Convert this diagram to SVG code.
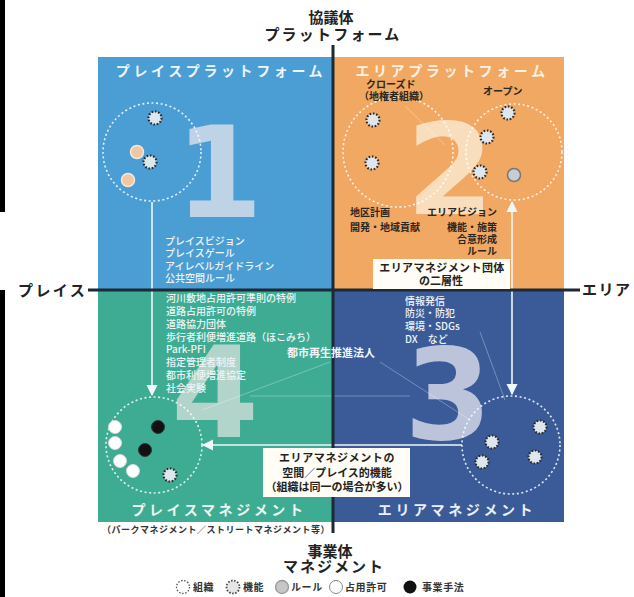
<svg xmlns="http://www.w3.org/2000/svg" width="634" height="597" viewBox="0 0 634 597">
<defs>
<style>
.jp{font-family:'Noto Sans CJK JP','Noto Sans',sans-serif;}
.ax{font-family:'Noto Sans CJK JP',sans-serif;font-weight:bold;font-size:15px;fill:#222;}
.qh{font-family:'Noto Sans CJK JP',sans-serif;font-weight:bold;font-size:14px;letter-spacing:3.6px;text-anchor:middle;}
.lw{font-family:'Noto Sans CJK JP',sans-serif;font-weight:500;font-size:10px;fill:#eef5f7;}
.ld{font-family:'Noto Sans CJK JP',sans-serif;font-weight:bold;font-size:10px;fill:#2b2620;}
.bx{font-family:'Noto Sans CJK JP',sans-serif;font-weight:bold;font-size:11px;fill:#222;text-anchor:middle;}
.dig{font-family:'DejaVu Sans',sans-serif;font-weight:bold;font-size:126px;text-anchor:middle;}
.grp{fill:none;stroke:#ffffff;stroke-width:1.6;stroke-dasharray:2 2.6;opacity:0.85;}
.gear{fill:#dfe7ee;stroke:#2a2a2a;stroke-width:2.2;stroke-dasharray:1.6 1.7;}
.rule{fill:#f2c7a0;stroke:#f4e7da;stroke-width:1.5;}
.white{fill:#ffffff;stroke:#d8d8d8;stroke-width:1;}
.black{fill:#111111;stroke:#333;stroke-width:1;}
.conn{stroke:#eef7fa;stroke-width:1.6;fill:none;}
.faint{stroke:#ffffff;stroke-width:1;opacity:0.3;fill:none;}
.lg{font-family:'Noto Sans CJK JP',sans-serif;font-weight:bold;font-size:10px;fill:#333;letter-spacing:0.6px;}
</style>
<marker id="ah" viewBox="0 0 10 10" refX="9" refY="5" markerWidth="7" markerHeight="7" orient="auto-start-reverse">
<path d="M0,0 L10,5 L0,10 z" fill="#eef7fa"/>
</marker>
</defs>
<rect x="0" y="0" width="634" height="597" fill="#ffffff"/>
<rect x="0" y="0" width="5" height="212" fill="#000"/>
<rect x="0" y="290" width="5" height="307" fill="#000"/>

<!-- quadrants -->
<g id="q1-bg"><rect x="98" y="57" width="236" height="234" fill="#4a9ed4"/></g>
<g id="q2-bg"><rect x="334" y="57" width="230" height="234" fill="#f0a862"/></g>
<g id="q4-bg"><rect x="98" y="291" width="236" height="231" fill="#3eac92"/></g>
<g id="q3-bg"><rect x="334" y="291" width="230" height="231" fill="#3b5b98"/></g>

<!-- big digits -->
<text class="dig" x="219" y="217" fill="#cbd9e8" opacity="0.9">1</text>
<text class="dig" x="450" y="214" fill="#fbe4c8" opacity="0.9">2</text>
<text class="dig" x="448" y="439" fill="#c9d0e2" opacity="0.9">3</text>
<text class="dig" x="215" y="437" fill="#c8dcd4" opacity="0.85">4</text>

<!-- faint decorative lines -->
<g id="faint-lines">
<line class="faint" x1="405" y1="106" x2="445" y2="145"/>
<line class="faint" x1="330" y1="362" x2="202" y2="410"/>
<line class="faint" x1="250" y1="396" x2="410" y2="396"/>
<line class="faint" x1="380" y1="362" x2="470" y2="420"/>
<line class="faint" x1="480" y1="332" x2="505" y2="400"/>
</g>

<!-- connectors -->
<g id="connectors">
<line class="conn" x1="152" y1="202" x2="152" y2="395" marker-end="url(#ah)"/>
<line class="conn" x1="512" y1="202" x2="512" y2="394" marker-start="url(#ah)" marker-end="url(#ah)"/>
<line class="conn" x1="462" y1="445" x2="203" y2="445" marker-end="url(#ah)"/>
</g>

<!-- axes -->
<g id="axes">
<line x1="333" y1="45" x2="333" y2="533" stroke="#1d2935" stroke-width="3"/>
<line x1="88" y1="290" x2="580" y2="290" stroke="#1d2935" stroke-width="3"/>
<text class="ax" x="331" y="23" text-anchor="middle">協議体</text>
<text class="ax" x="333" y="40" text-anchor="middle" letter-spacing="2.2">プラットフォーム</text>
<text class="ax" x="18" y="296" letter-spacing="2.4">プレイス</text>
<text class="ax" x="582" y="295" font-size="14" letter-spacing="1.5">エリア</text>
<text class="ax" x="330" y="557" text-anchor="middle" font-size="14">事業体</text>
<text class="ax" x="334" y="572" text-anchor="middle" letter-spacing="2">マネジメント</text>
</g>

<!-- Q1 -->
<g id="q1">
<text class="qh" x="221" y="76" fill="#eef5fb">プレイスプラットフォーム</text>
<circle class="grp" cx="152" cy="152" r="49"/>
<circle class="gear" cx="155" cy="118" r="6.5"/>
<circle class="rule" cx="137" cy="152" r="6.5"/>
<circle class="gear" cx="150" cy="162" r="6.5"/>
<circle class="rule" cx="128" cy="180" r="6.5"/>
<text class="lw" x="165" y="245">プレイスビジョン</text>
<text class="lw" x="165" y="257">プレイスゲール</text>
<text class="lw" x="165" y="270">アイレベルガイドライン</text>
<text class="lw" x="165" y="282">公共空間ルール</text>
</g>

<!-- Q2 -->
<g id="q2">
<text class="qh" x="452" y="76" fill="#fdf1e2">エリアプラットフォーム</text>
<circle class="grp" cx="398" cy="152" r="55"/>
<circle class="grp" cx="514" cy="152" r="48"/>
<text class="ld" x="366" y="88">クローズド</text>
<text class="ld" x="359" y="100">（地権者組織）</text>
<text class="ld" x="483" y="95">オープン</text>
<circle class="gear" cx="373" cy="120" r="6.5"/>
<circle class="gear" cx="372" cy="163" r="6.5"/>
<circle class="gear" cx="508" cy="113" r="6.5"/>
<circle class="gear" cx="487" cy="137" r="6.5"/>
<circle class="gear" cx="480" cy="172" r="6.5"/>
<circle cx="514" cy="175" r="6.5" fill="#c9ccd0" stroke="#777" stroke-width="1.5"/>
<text class="ld" x="350" y="216">地区計画</text>
<text class="ld" x="350" y="231">開発・地域貢献</text>
<text class="ld" x="427" y="216">エリアビジョン</text>
<text class="ld" x="497" y="231" text-anchor="end">機能・施策</text>
<text class="ld" x="497" y="243" text-anchor="end">合意形成</text>
<text class="ld" x="497" y="255" text-anchor="end">ルール</text>
</g>

<g id="box-twolayer">
<rect x="373" y="259" width="137" height="30" fill="#fffdf6"/>
<text class="bx" x="442" y="272" letter-spacing="0.4">エリアマネジメント団体</text>
<text class="bx" x="441" y="285">の二層性</text>
</g>

<!-- Q4 -->
<g id="q4">
<text class="lw" x="166" y="302">河川敷地占用許可準則の特例</text>
<text class="lw" x="166" y="315">道路占用許可の特例</text>
<text class="lw" x="166" y="328">道路協力団体</text>
<text class="lw" x="166" y="341">歩行者利便増進道路（ほこみち）</text>
<text class="lw" x="166" y="353">Park-PFI</text>
<text class="lw" x="166" y="366">指定管理者制度</text>
<text class="lw" x="166" y="379">都市利便増進協定</text>
<text class="lw" x="166" y="392">社会実験</text>
<circle class="grp" cx="154" cy="445" r="48"/>
<circle class="white" cx="115" cy="427" r="6.5"/>
<circle class="white" cx="115" cy="443" r="6.5"/>
<circle class="white" cx="120" cy="461" r="6.5"/>
<circle class="white" cx="133" cy="471" r="6.5"/>
<circle class="black" cx="158" cy="427" r="6.5"/>
<circle class="black" cx="145" cy="450" r="6.5"/>
<circle class="gear" cx="170" cy="475" r="6.5"/>
<text class="qh" x="219" y="515" fill="#eef7f4" letter-spacing="3">プレイスマネジメント</text>
</g>

<g id="toshi-saisei">
<text class="jp" x="287" y="357" font-size="11" font-weight="bold" fill="#f2f6fa">都市再生推進法人</text>
</g>

<!-- Q3 -->
<g id="q3">
<text class="lw" x="405" y="305">情報発信</text>
<text class="lw" x="405" y="317">防災・防犯</text>
<text class="lw" x="405" y="330">環境・SDGs</text>
<text class="lw" x="405" y="343">DX　など</text>
<circle class="grp" cx="511" cy="445" r="49"/>
<circle class="gear" cx="492" cy="442" r="6.5"/>
<circle class="gear" cx="482" cy="462" r="6.5"/>
<circle class="gear" cx="540" cy="427" r="6.5"/>
<circle class="gear" cx="535" cy="457" r="6.5"/>
<text class="qh" x="457" y="515" fill="#eaf0fa" letter-spacing="3.2">エリアマネジメント</text>
</g>

<g id="box-space">
<rect x="263" y="448" width="147" height="49" fill="#fffdf6"/>
<text class="bx" x="337" y="462" letter-spacing="0.6">エリアマネジメントの</text>
<text class="bx" x="337" y="477">空間／プレイス的機能</text>
<text class="bx" x="337" y="491">（組織は同一の場合が多い）</text>
</g>

<g id="subnote">
<text class="jp" x="102" y="533" font-size="9" font-weight="bold" fill="#333" letter-spacing="0.5">（パークマネジメント／ストリートマネジメント等）</text>
</g>

<!-- legend -->
<g id="legend">
<circle cx="183" cy="587" r="6.5" fill="none" stroke="#555" stroke-width="1.3" stroke-dasharray="1.5 1.6"/>
<text class="lg" x="193" y="591">組織</text>
<circle cx="233" cy="587" r="6.5" fill="#e6e6e6" stroke="#444" stroke-width="1.8" stroke-dasharray="1.5 1.6"/>
<text class="lg" x="243" y="591">機能</text>
<circle cx="282" cy="587" r="6.5" fill="#c6c6c6" stroke="#999" stroke-width="1.3"/>
<text class="lg" x="291" y="591">ルール</text>
<circle cx="336" cy="587" r="6.5" fill="#fff" stroke="#888" stroke-width="1"/>
<text class="lg" x="345" y="591">占用許可</text>
<circle cx="410" cy="587" r="6.5" fill="#111"/>
<text class="lg" x="422" y="591">事業手法</text>
</g>
</svg>
